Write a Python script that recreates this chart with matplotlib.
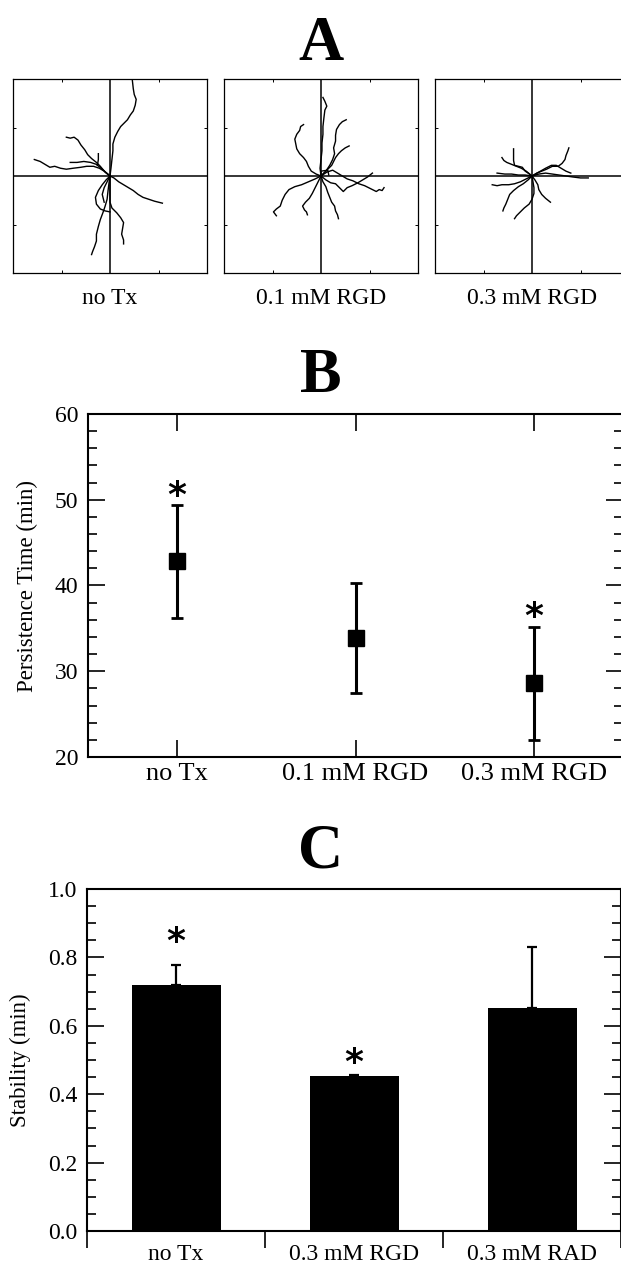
import matplotlib
matplotlib.use("Agg")
import matplotlib.pyplot as plt
from matplotlib.ticker import MultipleLocator, FixedLocator, NullFormatter, FormatStrFormatter

plt.rcParams['font.family'] = ['Liberation Serif', 'DejaVu Serif']

# ---------------- data ----------------
# Panel A: cell tracks, each track is a list of (x, y) points in box units
tracks_no_tx = [
    [(0, 0), (0.01, 0.08), (0.02, 0.17), (0.03, 0.26), (0.03, 0.33), (0.05, 0.40), (0.08, 0.46),
     (0.11, 0.51), (0.15, 0.55), (0.18, 0.58), (0.21, 0.63), (0.24, 0.67), (0.26, 0.73),
     (0.27, 0.79), (0.25, 0.84), (0.24, 0.90), (0.23, 0.99)],
    [(0, 0), (-0.05, 0.04), (-0.10, 0.10), (-0.14, 0.14), (-0.19, 0.18), (-0.23, 0.22), (-0.26, 0.27),
     (-0.30, 0.32), (-0.33, 0.37), (-0.37, 0.40), (-0.41, 0.39), (-0.45, 0.40)],
    [(0, 0), (-0.06, 0.05), (-0.11, 0.08), (-0.17, 0.10), (-0.24, 0.10), (-0.30, 0.09), (-0.38, 0.08),
     (-0.45, 0.07), (-0.51, 0.08), (-0.57, 0.10), (-0.62, 0.09), (-0.67, 0.12), (-0.72, 0.15), (-0.78, 0.17)],
    [(0, 0), (-0.08, 0.07), (-0.14, 0.12), (-0.20, 0.14), (-0.27, 0.15), (-0.34, 0.14), (-0.41, 0.14)],
    [(-0.13, 0.11), (-0.12, 0.17), (-0.12, 0.23)],
    [(0, 0), (0.04, -0.02), (0.09, -0.06), (0.14, -0.09), (0.19, -0.12), (0.24, -0.15), (0.29, -0.19),
     (0.34, -0.22), (0.40, -0.24), (0.46, -0.26), (0.50, -0.27), (0.54, -0.28)],
    [(0, 0), (-0.01, -0.07), (-0.02, -0.15), (-0.03, -0.24), (-0.05, -0.31), (-0.07, -0.37), (-0.10, -0.45),
     (-0.12, -0.52), (-0.14, -0.60), (-0.14, -0.67), (-0.16, -0.73), (-0.18, -0.78), (-0.19, -0.81)],
    [(0, 0), (0.00, -0.09), (0.00, -0.18), (0.00, -0.27), (0.02, -0.33), (0.07, -0.38), (0.11, -0.43),
     (0.14, -0.48), (0.13, -0.54), (0.12, -0.60), (0.14, -0.66), (0.14, -0.70)],
    [(0, 0), (-0.04, -0.04), (-0.08, -0.09), (-0.12, -0.15), (-0.15, -0.22), (-0.14, -0.29), (-0.10, -0.34),
     (-0.05, -0.36), (0.00, -0.37)],
    [(0, 0), (-0.03, -0.06), (-0.06, -0.12), (-0.08, -0.19), (-0.06, -0.27)],
]

tracks_rgd_01 = [
    [(0, 0), (-0.01, 0.08), (0.00, 0.17), (0.01, 0.26), (0.01, 0.34), (0.02, 0.43), (0.02, 0.51),
     (0.03, 0.60), (0.04, 0.68), (0.06, 0.72), (0.04, 0.77), (0.02, 0.81)],
    [(0, 0), (-0.05, 0.02), (-0.10, 0.05), (-0.13, 0.10), (-0.15, 0.15), (-0.18, 0.19), (-0.22, 0.23),
     (-0.25, 0.28), (-0.26, 0.33), (-0.27, 0.38), (-0.25, 0.43), (-0.22, 0.47), (-0.21, 0.51), (-0.18, 0.53)],
    [(0, 0), (0.05, 0.05), (0.09, 0.11), (0.12, 0.17), (0.14, 0.23), (0.13, 0.29), (0.15, 0.36),
     (0.15, 0.42), (0.16, 0.48), (0.19, 0.53), (0.22, 0.56), (0.26, 0.58)],
    [(0, 0), (0.06, 0.06), (0.11, 0.11), (0.15, 0.19), (0.18, 0.23), (0.21, 0.26), (0.25, 0.29), (0.29, 0.31)],
    [(0, 0), (0.06, 0.04), (0.12, 0.06), (0.17, 0.03), (0.22, 0.00), (0.27, -0.03), (0.33, -0.05),
     (0.39, -0.08), (0.45, -0.10), (0.51, -0.13), (0.57, -0.16), (0.60, -0.14), (0.63, -0.15), (0.65, -0.12)],
    [(0, 0), (0.05, -0.04), (0.10, -0.07), (0.15, -0.08), (0.19, -0.12), (0.23, -0.16), (0.27, -0.12),
     (0.32, -0.10), (0.38, -0.07), (0.43, -0.04), (0.48, -0.01), (0.53, 0.03)],
    [(0, 0), (-0.06, -0.03), (-0.13, -0.06), (-0.20, -0.09), (-0.27, -0.11), (-0.33, -0.14), (-0.37, -0.19),
     (-0.40, -0.25), (-0.42, -0.31), (-0.46, -0.34), (-0.49, -0.37), (-0.46, -0.41)],
    [(0, 0), (-0.03, -0.06), (-0.06, -0.12), (-0.09, -0.18), (-0.12, -0.23), (-0.16, -0.27), (-0.19, -0.31),
     (-0.17, -0.35), (-0.15, -0.37), (-0.14, -0.40)],
    [(0, 0), (0.02, -0.06), (0.05, -0.11), (0.07, -0.17), (0.09, -0.22), (0.11, -0.27), (0.14, -0.31),
     (0.15, -0.36), (0.17, -0.40), (0.18, -0.44)],
    [(0, 0), (0.00, 0.05), (0.07, 0.06), (0.08, 0.01)],
]

tracks_rgd_03 = [
    [(0, 0), (-0.04, 0.03), (-0.07, 0.05), (-0.10, 0.09), (-0.14, 0.10), (-0.18, 0.11), (-0.19, 0.16),
     (-0.19, 0.22), (-0.19, 0.28)],
    [(0, 0), (-0.06, 0.05), (-0.11, 0.08), (-0.16, 0.10), (-0.21, 0.12), (-0.26, 0.14), (-0.29, 0.16), (-0.31, 0.19)],
    [(0, 0), (-0.07, 0.01), (-0.14, 0.01), (-0.21, 0.02), (-0.28, 0.02), (-0.36, 0.03)],
    [(0, 0), (-0.06, -0.03), (-0.12, -0.06), (-0.18, -0.08), (-0.24, -0.09), (-0.31, -0.09), (-0.36, -0.10), (-0.41, -0.09)],
    [(0, 0), (-0.04, -0.04), (-0.09, -0.08), (-0.14, -0.11), (-0.19, -0.15), (-0.23, -0.19), (-0.25, -0.24),
     (-0.27, -0.29), (-0.29, -0.33), (-0.30, -0.36)],
    [(0, 0), (0.01, -0.06), (0.02, -0.12), (0.02, -0.18), (0.00, -0.24), (-0.03, -0.29), (-0.08, -0.33),
     (-0.12, -0.37), (-0.16, -0.41), (-0.18, -0.44)],
    [(0, 0), (0.03, -0.04), (0.06, -0.09), (0.07, -0.14), (0.10, -0.19), (0.14, -0.23), (0.19, -0.27)],
    [(0, 0), (0.07, 0.02), (0.14, 0.03), (0.21, 0.02), (0.28, 0.01), (0.35, 0.00), (0.42, -0.01),
     (0.50, -0.02), (0.58, -0.02)],
    [(0, 0), (0.05, 0.03), (0.10, 0.05), (0.15, 0.07), (0.21, 0.10), (0.27, 0.10), (0.31, 0.13),
     (0.34, 0.17), (0.35, 0.21), (0.37, 0.26), (0.38, 0.29)],
    [(0, 0), (0.07, 0.04), (0.14, 0.08), (0.20, 0.11), (0.25, 0.11), (0.30, 0.08), (0.35, 0.05), (0.40, 0.03)],
]

track_labels = ["no Tx", "0.1 mM RGD", "0.3 mM RGD"]

# Panel B: persistence time
persist_labels = ["no Tx", "0.1 mM RGD", "0.3 mM RGD"]
persist_mean = [42.8, 33.9, 28.6]
persist_err = [6.6, 6.4, 6.6]
persist_star = [51.5, None, 37.4]

# Panel C: stability
stab_labels = ["no Tx", "0.3 mM RGD", "0.3 mM RAD"]
stab_mean = [0.718, 0.452, 0.652]
stab_err = [0.060, 0.004, 0.177]
stab_star = [0.871, 0.518, None]

# ---------------- layout helpers ----------------
W, H = 621, 1267
fig = plt.figure(figsize=(W / 100, H / 100), dpi=100)


def px_axes(x0, y0, x1, y1):
    return fig.add_axes([x0 / W, 1 - y1 / H, (x1 - x0) / W, (y1 - y0) / H])


def panel_letter(text, baseline_y):
    fig.text(321 / W, 1 - baseline_y / H, text, fontsize=45, fontweight='bold',
             ha='center', va='baseline')


def add_star(ax, x, y):
    ax.annotate('*', xy=(x, y), xytext=(0, -19), textcoords='offset pixels',
                ha='center', va='baseline', fontsize=26, fontweight='bold',
                family='DejaVu Sans')


# ---------------- panel A ----------------
panel_letter('A', 60)
for x0, tracks, label in zip([13, 224, 435], [tracks_no_tx, tracks_rgd_01, tracks_rgd_03], track_labels):
    ax = px_axes(x0, 79, x0 + 194, 273)
    ax.set_xlim(-1, 1)
    ax.set_ylim(-1, 1)
    ax.axhline(0, color='k', lw=1.1)
    ax.axvline(0, color='k', lw=1.1)
    for tr in tracks:
        xs, ys = zip(*tr)
        ax.plot(xs, ys, color='k', lw=1.0, solid_joinstyle='round')
    for sp in ax.spines.values():
        sp.set_linewidth(0.9)
    ax.set_xticks([-0.5, 0.5])
    ax.set_yticks([-0.5, 0.5])
    ax.tick_params(direction='in', length=2.5, width=0.7, top=True, right=True,
                   labelbottom=False, labelleft=False)
    fig.text((x0 + 97) / W, 1 - 298 / H, label, fontsize=17, ha='center', va='center')

# ---------------- panel B ----------------
panel_letter('B', 392)
axb = px_axes(88, 414, 623, 757)
xb = [1, 2, 3]
axb.errorbar(xb, persist_mean, yerr=persist_err, fmt='s', color='k', ms=12,
             elinewidth=2.2, capsize=4.5, capthick=2.0)
axb.set_xlim(0.5, 3.5)
axb.set_ylim(20, 60)
axb.set_xticks(xb)
axb.set_xticklabels(persist_labels, fontsize=19)
axb.yaxis.set_major_locator(MultipleLocator(10))
axb.yaxis.set_minor_locator(MultipleLocator(2))
axb.tick_params(axis='y', which='major', direction='in', length=12, width=1.2,
                left=True, right=True, labelsize=17, pad=7)
axb.tick_params(axis='y', which='minor', direction='in', length=6.5, width=1.2,
                left=True, right=True)
axb.tick_params(axis='x', which='major', direction='in', length=12, width=1.2,
                top=True, bottom=True, pad=4)
axb.set_ylabel('Persistence Time (min)', fontsize=16.5, labelpad=12)
for sp in axb.spines.values():
    sp.set_linewidth(1.5)
for xi, ys in zip(xb, persist_star):
    if ys is not None:
        add_star(axb, xi, ys)

# ---------------- panel C ----------------
panel_letter('C', 867)
axc = px_axes(87, 889, 621, 1231)
xc = [1, 2, 3]
axc.bar(xc, stab_mean, width=0.5, color='k')
axc.errorbar(xc, stab_mean, yerr=[[0, 0, 0], stab_err], fmt='none', ecolor='k',
             elinewidth=1.6, capsize=3.5, capthick=1.6)
axc.set_xlim(0.5, 3.5)
axc.set_ylim(0, 1.0)
axc.set_xticks(xc)
axc.set_xticklabels(stab_labels, fontsize=17)
axc.xaxis.set_minor_locator(FixedLocator([0.5, 1.5, 2.5, 3.5]))
axc.xaxis.set_minor_formatter(NullFormatter())
axc.tick_params(axis='x', which='major', length=0, pad=9)
axc.tick_params(axis='x', which='minor', direction='out', length=12, width=1.2,
                bottom=True, top=False)
axc.yaxis.set_major_locator(MultipleLocator(0.2))
axc.yaxis.set_minor_locator(MultipleLocator(0.05))
axc.yaxis.set_major_formatter(FormatStrFormatter('%.1f'))
axc.tick_params(axis='y', which='major', direction='in', length=12, width=1.2,
                left=True, right=True, labelsize=17, pad=7)
axc.tick_params(axis='y', which='minor', direction='in', length=6.5, width=1.2,
                left=True, right=True)
axc.set_ylabel('Stability (min)', fontsize=16.5, labelpad=12)
for sp in axc.spines.values():
    sp.set_linewidth(1.5)
for xi, ys in zip(xc, stab_star):
    if ys is not None:
        add_star(axc, xi, ys)

fig.savefig('out.png', dpi=100)
